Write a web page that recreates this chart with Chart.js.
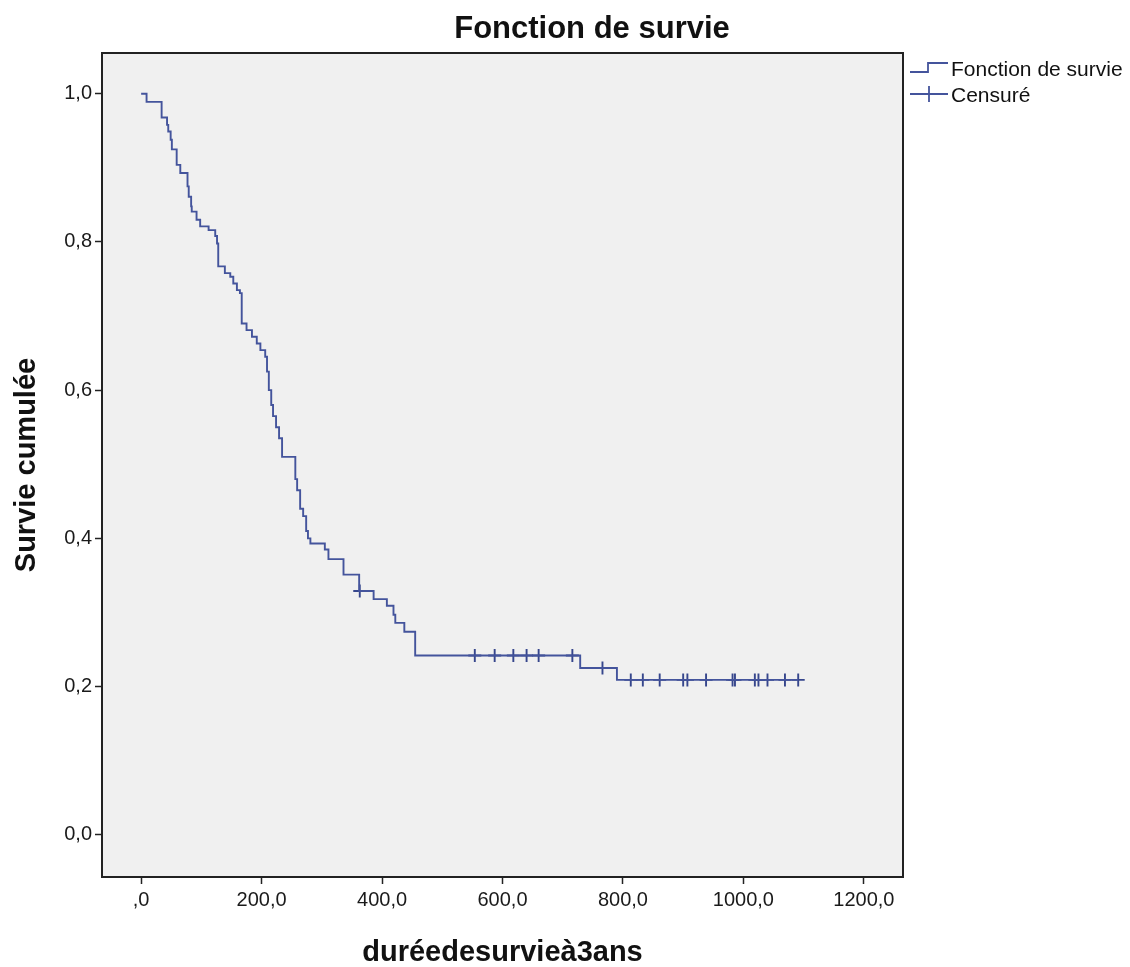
<!DOCTYPE html>
<html>
<head>
<meta charset="utf-8">
<script src="https://cdn.jsdelivr.net/npm/chart.js@4.4.1/dist/chart.umd.min.js"></script>
<style>
html,body{margin:0;padding:0;background:#fff;}
</style>
</head>
<body>
<canvas id="grafico" width="1130" height="967"></canvas>
<script>

// ================================
// DONNÉES
// ================================

// temps (jours) de chaque marche et survie cumulée après la marche
const temps = [0, 9, 34, 43, 45, 49, 51, 59, 65, 77, 79, 83, 84, 92, 98, 112, 123, 126, 128, 139, 148, 153, 159, 164, 167, 175, 184, 192, 198, 206, 209, 212, 216, 219, 224, 229, 234, 256, 259, 264, 269, 274, 277, 281, 305, 311, 336, 362, 386, 408, 419, 422, 437, 455, 729, 790, 1091];
const survie = [1.000, 0.989, 0.968, 0.958, 0.949, 0.938, 0.925, 0.904, 0.893, 0.875, 0.861, 0.848, 0.841, 0.830, 0.821, 0.816, 0.808, 0.798, 0.767, 0.758, 0.753, 0.744, 0.735, 0.731, 0.690, 0.681, 0.672, 0.663, 0.654, 0.645, 0.625, 0.600, 0.580, 0.565, 0.550, 0.535, 0.510, 0.480, 0.465, 0.440, 0.430, 0.410, 0.400, 0.393, 0.385, 0.372, 0.351, 0.329, 0.318, 0.309, 0.297, 0.286, 0.274, 0.242, 0.225, 0.209, 0.209];

// observations censurées
const tempsCensure = [363, 554, 587, 618, 640, 660, 716, 766, 813, 833, 861, 900, 907, 938, 982, 986, 1019, 1025, 1040, 1069, 1091];
const survieCensure = [0.329, 0.242, 0.242, 0.242, 0.242, 0.242, 0.242, 0.225, 0.209, 0.209, 0.209, 0.209, 0.209, 0.209, 0.209, 0.209, 0.209, 0.209, 0.209, 0.209, 0.209];

// graduations
const xTicks = [0, 200, 400, 600, 800, 1000, 1200];
const xTickLabels = [",0", "200,0", "400,0", "600,0", "800,0", "1000,0", "1200,0"];
const yTicks = [0, 0.2, 0.4, 0.6, 0.8, 1.0];
const yTickLabels = ["0,0", "0,2", "0,4", "0,6", "0,8", "1,0"];

const police = "'Liberation Sans', Arial, sans-serif";
const bleu = "#44549c";

// fond gris + cadre
const cadre = {
    id: "cadre",
    beforeDatasetsDraw(chart){
        const {ctx, chartArea: a} = chart;
        ctx.save();
        ctx.fillStyle = "#f0f0f0";
        ctx.fillRect(a.left, a.top, a.right - a.left, a.bottom - a.top);
        ctx.strokeStyle = "#222";
        ctx.lineWidth = 2;
        ctx.strokeRect(a.left, a.top, a.right - a.left, a.bottom - a.top);
        ctx.restore();
    }
};

// titre + légende
const textes = {
    id: "textes",
    afterDraw(chart){
        const ctx = chart.ctx;
        ctx.save();

        ctx.fillStyle = "#111";
        ctx.font = "bold 31px " + police;
        ctx.textAlign = "center";
        ctx.textBaseline = "middle";
        ctx.fillText("Fonction de survie", 592, 29);

        // légende
        ctx.strokeStyle = bleu;
        ctx.lineWidth = 1.8;
        ctx.beginPath();
        ctx.moveTo(910, 72);
        ctx.lineTo(928, 72);
        ctx.lineTo(928, 63);
        ctx.lineTo(948, 63);
        ctx.stroke();

        ctx.beginPath();
        ctx.moveTo(910, 94);
        ctx.lineTo(948, 94);
        ctx.moveTo(929, 86);
        ctx.lineTo(929, 102);
        ctx.stroke();

        ctx.font = "21px " + police;
        ctx.textAlign = "left";
        ctx.fillText("Fonction de survie", 951, 70);
        ctx.fillText("Censuré", 951, 96);

        ctx.restore();
    }
};

const ctx = document.getElementById("grafico");

const grafico = new Chart(ctx, {

    type: "line",

    data: {
        datasets: [
            {
                label: "Fonction de survie",
                data: temps.map((t, i) => ({x: t, y: survie[i]})),
                stepped: true,
                borderColor: bleu,
                borderWidth: 1.9,
                pointRadius: 0,
                fill: false
            },
            {
                label: "Censuré",
                type: "scatter",
                data: tempsCensure.map((t, i) => ({x: t, y: survieCensure[i]})),
                pointStyle: "cross",
                pointRadius: 6.5,
                borderColor: "#36468c",
                borderWidth: 1.9,
                showLine: false
            }
        ]
    },

    options: {
        responsive: false,
        animation: false,
        devicePixelRatio: 1,
        layout: {
            padding: {top: 53, right: 227, left: 0, bottom: 0}
        },
        plugins: {
            legend: {display: false},
            title: {display: false},
            tooltip: {enabled: false}
        },
        scales: {
            x: {
                type: "linear",
                min: -65,
                max: 1265,
                afterFit(s){ s.height = 90; },
                afterBuildTicks(s){ s.ticks = xTicks.map(v => ({value: v})); },
                border: {display: false},
                grid: {
                    drawOnChartArea: false,
                    tickLength: 7,
                    tickColor: "#222",
                    tickWidth: 1.5
                },
                ticks: {
                    autoSkip: false,
                    maxRotation: 0,
                    padding: 4,
                    color: "#1a1a1a",
                    font: {family: police, size: 20},
                    callback: (v, i) => xTickLabels[i]
                },
                title: {
                    display: true,
                    text: "duréedesurvieà3ans",
                    color: "#111",
                    font: {family: police, size: 29, weight: "bold", lineHeight: 1},
                    padding: {top: 0, bottom: 0}
                }
            },
            y: {
                min: -0.057,
                max: 1.055,
                afterFit(s){ s.width = 102; },
                afterBuildTicks(s){ s.ticks = yTicks.map(v => ({value: v})); },
                border: {display: false},
                grid: {
                    drawOnChartArea: false,
                    tickLength: 7,
                    tickColor: "#222",
                    tickWidth: 1.5
                },
                ticks: {
                    autoSkip: false,
                    padding: 3,
                    color: "#1a1a1a",
                    font: {family: police, size: 20},
                    callback: (v, i) => yTickLabels[i]
                },
                title: {
                    display: true,
                    text: "Survie cumulée",
                    color: "#111",
                    font: {family: police, size: 29, weight: "bold", lineHeight: 1},
                    padding: {top: 12, bottom: 0}
                }
            }
        }
    },

    plugins: [cadre, textes]
});
</script>
</body>
</html>
